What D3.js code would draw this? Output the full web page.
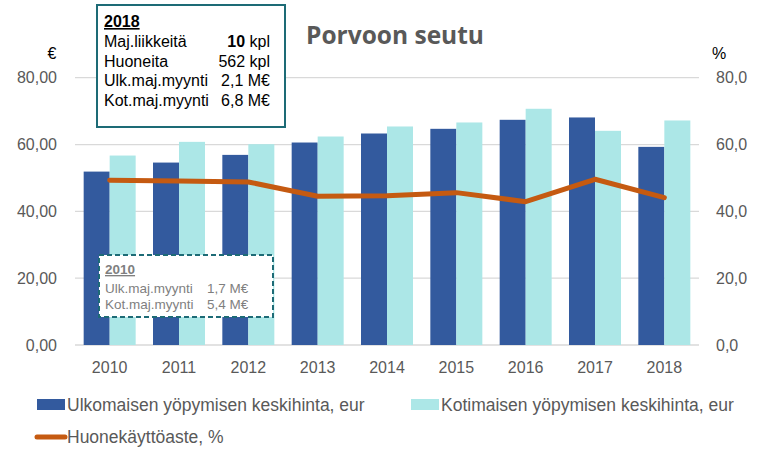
<!DOCTYPE html>
<html><head><meta charset="utf-8">
<script src="https://cdn.jsdelivr.net/npm/d3@7"></script>
<style>
body{margin:0;background:#fff;}
svg{display:block;font-family:"Liberation Sans",Arial,sans-serif;}
</style></head>
<body>
<svg id="c" width="764" height="453"></svg>
<script>
const years = ["2010","2011","2012","2013","2014","2015","2016","2017","2018"];
const ulkomainen = [51.9,54.6,56.9,60.6,63.3,64.7,67.4,68.1,59.3];
const kotimainen = [56.7,60.8,60.1,62.4,65.4,66.6,70.7,64.1,67.2];
const kayttoaste = [49.3,49.1,48.8,44.5,44.7,45.6,42.9,49.6,44.1];
const leftTicks = [0,20,40,60,80];
const rightTicks = [0,20,40,60,80];
const seriesNames = ["Ulkomaisen yöpymisen keskihinta, eur","Kotimaisen yöpymisen keskihinta, eur","Huonekäyttöaste, %"];
const box2018 = [["Maj.liikkeitä","10"," kpl"],["Huoneita","562 kpl",""],["Ulk.maj.myynti","2,1 M€",""],["Kot.maj.myynti","6,8 M€",""]];
const box2010 = [["Ulk.maj.myynti","1,7 M€"],["Kot.maj.myynti","5,4 M€"]];

const C_DARK="#335a9e", C_LIGHT="#ace7e7", C_LINE="#c55a11", C_GRID="#d9d9d9", C_TXT="#595959";
const svg=d3.select("#c");
const x=d3.scaleBand().domain(years).range([75,699]).paddingInner(0.25).paddingOuter(0.125);
const x0=d3.scaleBand().domain(years).range([75,699]);
const yL=d3.scaleLinear().domain([0,80]).range([345,77.7]);
const yR=d3.scaleLinear().domain([0,80]).range([345,77.7]);

// grid
svg.append("g").selectAll("line").data(leftTicks).join("line")
 .attr("x1",75).attr("x2",699).attr("y1",d=>yL(d)).attr("y2",d=>yL(d))
 .attr("stroke",C_GRID).attr("stroke-width",1.3);

// axes
const fmtL=d3.format(".2f"), fmtR=d3.format(".1f");
const axL=svg.append("g").attr("transform","translate(75,0)")
 .call(d3.axisLeft(yL).tickValues(leftTicks).tickSize(0).tickPadding(18).tickFormat(d=>fmtL(d).replace(".",",")));
axL.select(".domain").remove();
axL.selectAll("text").attr("fill",C_TXT).attr("font-size",16);
const axR=svg.append("g").attr("transform","translate(699,0)")
 .call(d3.axisRight(yR).tickValues(rightTicks).tickSize(0).tickPadding(17).tickFormat(d=>fmtR(d).replace(".",",")));
axR.select(".domain").remove();
axR.selectAll("text").attr("fill",C_TXT).attr("font-size",16);
const axB=svg.append("g").attr("transform","translate(0,345)")
 .call(d3.axisBottom(x0).tickSize(0).tickPadding(17));
axB.select(".domain").remove();
axB.selectAll("text").attr("fill",C_TXT).attr("font-size",16);

svg.append("text").attr("x",52).attr("y",59).attr("text-anchor","middle").attr("fill","#000").attr("font-size",16).text("€");
svg.append("text").attr("x",719).attr("y",59).attr("text-anchor","middle").attr("fill","#000").attr("font-size",16).text("%");

// bars
const bw=x.bandwidth()/2;
svg.append("g").selectAll("rect").data(years).join("rect")
 .attr("x",d=>x(d)).attr("width",bw).attr("y",(d,i)=>yL(ulkomainen[i])).attr("height",(d,i)=>345-yL(ulkomainen[i])).attr("fill",C_DARK);
svg.append("g").selectAll("rect").data(years).join("rect")
 .attr("x",d=>x(d)+bw).attr("width",bw).attr("y",(d,i)=>yL(kotimainen[i])).attr("height",(d,i)=>345-yL(kotimainen[i])).attr("fill",C_LIGHT);

// line
const line=d3.line().x((d,i)=>x0(years[i])+x0.bandwidth()/2).y(d=>yR(d));
svg.append("path").datum(kayttoaste).attr("d",line).attr("fill","none").attr("stroke",C_LINE).attr("stroke-width",5).attr("stroke-linejoin","round").attr("stroke-linecap","round");

// title
svg.append("text").attr("x",395).attr("y",44).attr("text-anchor","middle").attr("fill",C_TXT)
 .attr("font-family","'Open Sans',sans-serif").attr("font-weight","bold").attr("font-size",24.5).text("Porvoon seutu");

// box 2018
const b1=svg.append("g");
b1.append("rect").attr("x",97).attr("y",5).attr("width",188).attr("height",122).attr("fill","#fff").attr("stroke","#1d6b76").attr("stroke-width",2);
b1.append("text").attr("x",104).attr("y",27).attr("font-size",16).attr("font-weight","bold").attr("text-decoration","underline").attr("fill","#000").text("2018");
box2018.forEach((r,i)=>{
  const yy=47+i*19.6;
  b1.append("text").attr("x",104).attr("y",yy).attr("font-size",16).attr("fill","#000").text(r[0]);
  const t=b1.append("text").attr("x",270).attr("y",yy).attr("font-size",16).attr("fill","#000").attr("text-anchor","end");
  if(r[2]){t.append("tspan").attr("font-weight","bold").text(r[1]);t.append("tspan").text(r[2]);}
  else t.text(r[1]);
});

// box 2010
const b2=svg.append("g");
b2.append("rect").attr("x",99).attr("y",255).attr("width",174).attr("height",62).attr("fill","#fff").attr("stroke","#1d6b76").attr("stroke-width",2).attr("stroke-dasharray","5,3");
b2.append("text").attr("x",105).attr("y",274).attr("font-size",13.5).attr("font-weight","bold").attr("text-decoration","underline").attr("fill","#7f7f7f").text("2010");
box2010.forEach((r,i)=>{
  const yy=292.5+i*16.5;
  b2.append("text").attr("x",105).attr("y",yy).attr("font-size",13.5).attr("fill","#7f7f7f").text(r[0]);
  b2.append("text").attr("x",207).attr("y",yy).attr("font-size",13.5).attr("fill","#7f7f7f").text(r[1]);
});

// legend
const lg=svg.append("g").attr("font-size",17.5).attr("fill",C_TXT);
lg.append("rect").attr("x",37).attr("y",399).attr("width",28).attr("height",11).attr("fill",C_DARK);
lg.append("text").attr("x",67).attr("y",411).text(seriesNames[0]);
lg.append("rect").attr("x",411).attr("y",399).attr("width",28).attr("height",11).attr("fill",C_LIGHT);
lg.append("text").attr("x",441).attr("y",411).text(seriesNames[1]);
lg.append("line").attr("x1",37).attr("x2",65).attr("y1",437).attr("y2",437).attr("stroke",C_LINE).attr("stroke-width",5).attr("stroke-linecap","round");
lg.append("text").attr("x",67).attr("y",443).text(seriesNames[2]);
</script>
</body></html>
